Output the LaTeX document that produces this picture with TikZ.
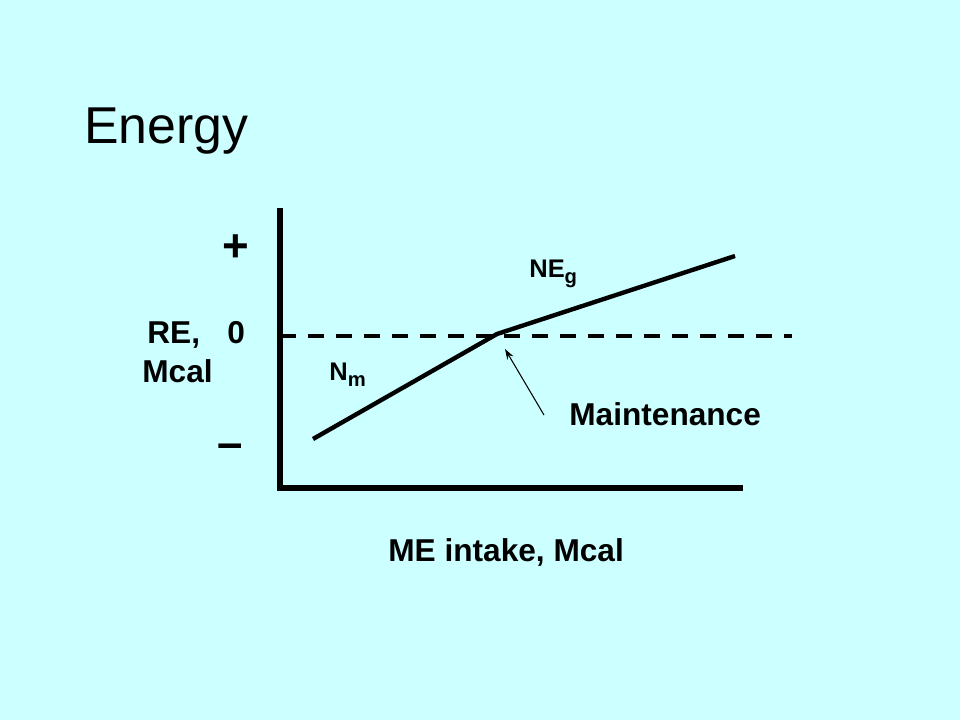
\documentclass[tikz,border=0pt]{standalone}
\usepackage{fontspec}
\setmainfont{Liberation Sans}
\usepackage{xcolor}
\definecolor{mycyan}{RGB}{204,255,255}
\usepackage{tikz}
\usetikzlibrary{positioning}
\usetikzlibrary{arrows.meta}
\newcommand{\lowsub}[1]{\raisebox{-3.5pt}{\fontsize{11.5}{12}\selectfont #1}}
\tikzstyle{heading} = [font=\fontsize{29.5}{36}\selectfont, inner sep=0pt, anchor=base west]
\tikzstyle{axistext} = [font=\bfseries\fontsize{18}{22}\selectfont, inner sep=0pt, anchor=base west]
\tikzstyle{curvetext} = [font=\bfseries\fontsize{14.5}{17}\selectfont, inner sep=0pt, anchor=base west]
\tikzstyle{sign} = [font=\bfseries\fontsize{26}{30}\selectfont, inner sep=0pt, anchor=base]
\tikzstyle{axisline} = [line width=3.1pt, black]
\tikzstyle{zeroline} = [line width=2.3pt, dash pattern=on 0.32cm off 0.24cm]
\tikzstyle{curve} = [line width=2.5pt, line join=round]
\tikzstyle{pointer} = [line width=0.6pt, -{Stealth[length=6pt,width=4pt]}]

\begin{document}
\begin{tikzpicture}[x=0.02cm, y=-0.02cm]
	\fill[mycyan] (0,0) rectangle (960,720);
	\node (title)[heading] at (84,143) {Energy};
	\coordinate (top) at (280,208);
	\coordinate (origin) at (280,488);
	\coordinate (right) at (743,488);
	\coordinate (zleft) at (280,336);
	\coordinate (zright) at (792,336);
	\coordinate (start) at (313,439);
	\coordinate (kink) at (497,334);
	\coordinate (stop) at (735,256);
	\coordinate (tip) at (505,349);
	\coordinate (tail) at (544,415);
	\node (plus)[sign] at (236,261) {+};
	\node (minus)[sign] at (230,458) {--};
	\node (zero)[axistext] at (227,343) {0};
	\node (re)[axistext] at (147,343) {RE,};
	\node (mcal)[axistext] at (142,382) {Mcal};
	\node (neg)[curvetext] at (529,277) {NE\lowsub{g}};
	\node (nm)[curvetext] at (329,380) {N\lowsub{m}};
	\node (maint)[axistext] at (569,425) {Maintenance};
	\node (xlabel)[axistext] at (388,561) {ME intake, Mcal};
	\draw [zeroline] (zleft) -- (zright);
	\draw [axisline] (top) -- (origin) -- (right);
	\draw [curve] (start) -- (kink) -- (stop);
	\draw [pointer] (tail) -- (tip);
	\end{tikzpicture}
\end{document}
